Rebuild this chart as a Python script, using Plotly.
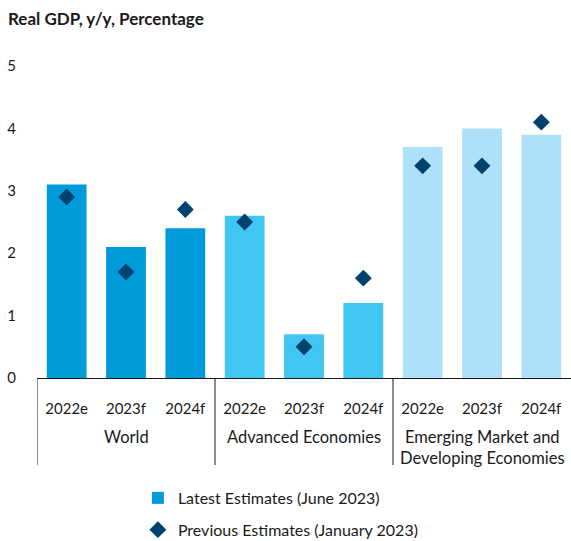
import plotly.graph_objects as go

groups = ["World", "Advanced Economies", "Emerging Market and<br>Developing Economies"]
years = ["2022e", "2023f", "2024f"]
latest = [3.1, 2.1, 2.4, 2.6, 0.7, 1.2, 3.7, 4.0, 3.9]
previous = [2.9, 1.7, 2.7, 2.5, 0.5, 1.6, 3.4, 3.4, 4.1]
group_colors = ["#009BDA", "#41C6F2", "#ADE1FA"]

x_years = [y for _ in groups for y in years]
x_pos = list(range(len(x_years)))
bar_colors = [c for c in group_colors for _ in years]

fig = go.Figure()
fig.add_trace(go.Bar(
    x=x_pos, y=latest, name="Latest Estimates (June 2023)",
    marker=dict(color=bar_colors, line=dict(width=0)),
    width=0.67, legendgroup="a",
))
fig.add_trace(go.Scatter(
    x=x_pos, y=previous, name="Previous Estimates (January 2023)",
    mode="markers", marker=dict(symbol="diamond", size=13, color="#00426F"),
    legendgroup="b",
))

# group labels and dividers
n = len(years)
for gi, g in enumerate(groups):
    fig.add_annotation(x=gi * n + (n - 1) / 2, xref="x", y=-0.15, yref="paper",
                       text=g, showarrow=False, xanchor="center", yanchor="top",
                       font=dict(size=16.5, color="#1a1a1a"))
    fig.add_shape(type="line", xref="x", yref="paper",
                  x0=gi * n - 0.5, x1=gi * n - 0.5, y0=0, y1=-0.279,
                  line=dict(color="#1a1a1a", width=1))

font_family = "Lato, 'Open Sans', sans-serif"
fig.update_layout(
    width=571, height=541,
    margin=dict(l=37, r=0, t=66, b=163, autoexpand=False),
    paper_bgcolor="white", plot_bgcolor="white",
    font=dict(family=font_family, size=15, color="#1a1a1a"),
    title=dict(text="<b>Real GDP, y/y, Percentage</b>", x=8 / 571, xref="container", xanchor="left",
               y=1 - 19 / 541, yanchor="middle", yref="container",
               font=dict(size=17, color="#1a1a1a")),
    showlegend=True,
    legend=dict(x=0.2415, xref="container", xanchor="left", y=0.111, yref="container", yanchor="top",
                traceorder="grouped", tracegroupgap=8,
                font=dict(size=16, color="#1a1a1a"), bgcolor="rgba(0,0,0,0)"),
)
fig.update_yaxes(range=[0, 5], dtick=1, showgrid=False, zeroline=False, showline=False,
                 ticks="", ticklabelstandoff=20, tickfont=dict(size=15), automargin=False)
fig.update_xaxes(range=[-0.5, len(x_years) - 0.5], tickvals=x_pos, ticktext=x_years,
                 showline=True, linecolor="#1a1a1a", linewidth=1, zeroline=False,
                 ticks="", showgrid=False, tickfont=dict(size=15), ticklabelstandoff=17,
                 automargin=False)

fig.write_html("out.html", config={"displayModeBar": False},
               post_script="document.body.style.margin='0';")
